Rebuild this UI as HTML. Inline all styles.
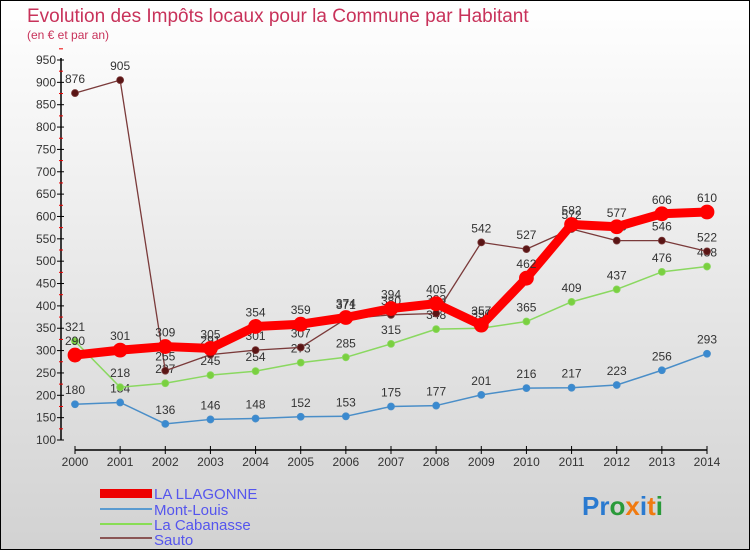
<!DOCTYPE html>
<html><head><meta charset="utf-8"><style>
body{margin:0}
#c{width:750px;height:550px;position:relative;font-family:"Liberation Sans",sans-serif}
svg text{font-family:"Liberation Sans",sans-serif}
</style></head><body>
<div id="c">
<svg id="s" width="750" height="550" xmlns="http://www.w3.org/2000/svg">
<defs><linearGradient id="bg" x1="0" y1="0" x2="0" y2="1"><stop offset="0" stop-color="#ffffff"/><stop offset="1" stop-color="#d2d2d2"/></linearGradient></defs>
<rect x="0.5" y="0.5" width="749" height="549" fill="url(#bg)" stroke="#000"/>
<text x="27" y="22" font-size="19" fill="#c8325a">Evolution des Impôts locaux pour la Commune par Habitant</text>
<text x="27" y="39" font-size="12" fill="#c8325a">(en € et par an)</text>
<g id="axes"></g><g id="series"></g>
<g>
<rect x="100" y="489" width="52" height="9" fill="#ee0000"/>
<text x="154" y="499" font-size="15" fill="#5555ee">LA LLAGONNE</text>
<rect x="100" y="508" width="52" height="2" fill="#5a9bd0"/>
<text x="154" y="515" font-size="15" fill="#5555ee">Mont-Louis</text>
<rect x="100" y="523" width="52" height="2" fill="#88dd55"/>
<text x="154" y="530" font-size="15" fill="#5555ee">La Cabanasse</text>
<rect x="100" y="537" width="52" height="2" fill="#8a5555"/>
<text x="154" y="545" font-size="15" fill="#5555ee">Sauto</text>
</g>
<text x="582" y="515" font-size="26" font-weight="bold"><tspan fill="#2a7ad0">Pr</tspan><tspan fill="#2a9a3a">o</tspan><tspan fill="#f07a10">x</tspan><tspan fill="#2a7ad0">i</tspan><tspan fill="#f07a10">t</tspan><tspan fill="#2a9a3a">i</tspan></text>
</svg></div>
<script>
const years=[2000,2001,2002,2003,2004,2005,2006,2007,2008,2009,2010,2011,2012,2013,2014];
const llagonne=[290,301,309,305,354,359,374,394,405,357,462,582,577,606,610];
const montLouis=[180,184,136,146,148,152,153,175,177,201,216,217,223,256,293];
const cabanasse=[321,218,227,245,254,273,285,315,348,350,365,409,437,476,488];
const sauto=[876,905,255,291,301,307,371,380,383,542,527,572,546,546,522];
const yTicks=[100,150,200,250,300,350,400,450,500,550,600,650,700,750,800,850,900,950];
const NS='http://www.w3.org/2000/svg';
const X=i=>75+i*(707-75)/14;
const Y=v=>440-(v-100)*(380/850);
function mk(tag,attrs,parent){const e=document.createElementNS(NS,tag);for(const k in attrs)e.setAttribute(k,attrs[k]);parent.appendChild(e);return e;}
const ax=document.getElementById('axes');
let yl=mk('line',{x1:61,y1:58,x2:61,y2:440,stroke:'#000','stroke-width':1.5},ax);


yTicks.forEach(v=>{
  mk('line',{x1:57,y1:Y(v),x2:64,y2:Y(v),stroke:'#000'},ax);
  mk('line',{x1:59,y1:Y(v+25),x2:63,y2:Y(v+25),stroke:'#e00'},ax);
  const t=mk('text',{x:56,y:Y(v)+4,'font-size':12,fill:'#333','text-anchor':'end'},ax);
  t.textContent=v;
  
  
});
let xl=mk('line',{x1:75,y1:450,x2:707,y2:450,stroke:'#000','stroke-width':1.5},ax);


years.forEach((y,i)=>{
  mk('line',{x1:X(i),y1:446,x2:X(i),y2:454,stroke:'#000'},ax);
  const t=mk('text',{x:X(i),y:466,'font-size':12,fill:'#333','text-anchor':'middle'},ax);
  t.textContent=y;
  
  
});
const sg=document.getElementById('series');
function series(vals,color,w,r,name,dotColor){
  const g=mk('g',{},sg);
  
  
  const p=mk('polyline',{points:vals.map((v,i)=>X(i)+','+Y(v)).join(' '),fill:'none',stroke:color,'stroke-width':w,'stroke-linejoin':'round'},g);
  
  
  vals.forEach((v,i)=>{
    const c=mk('circle',{cx:X(i),cy:Y(v),r:r,fill:dotColor,stroke:color,'stroke-width':0.8},g);
    
    
    const t=mk('text',{x:X(i),y:Y(v)-10,'font-size':12,fill:'#333','text-anchor':'middle'},g);
    t.textContent=v;
    
    
  });
}
series(montLouis,'#4a8ec8',1.5,3.5,'mont-louis','#3a8ad0');
series(cabanasse,'#8ad860',1.5,3.5,'la-cabanasse','#7ad040');
series(sauto,'#7a3a3a',1.3,3.5,'sauto','#5a1515');
series(llagonne,'#ff0000',9,7,'la-llagonne','#ff0000');
</script>
</body></html>
